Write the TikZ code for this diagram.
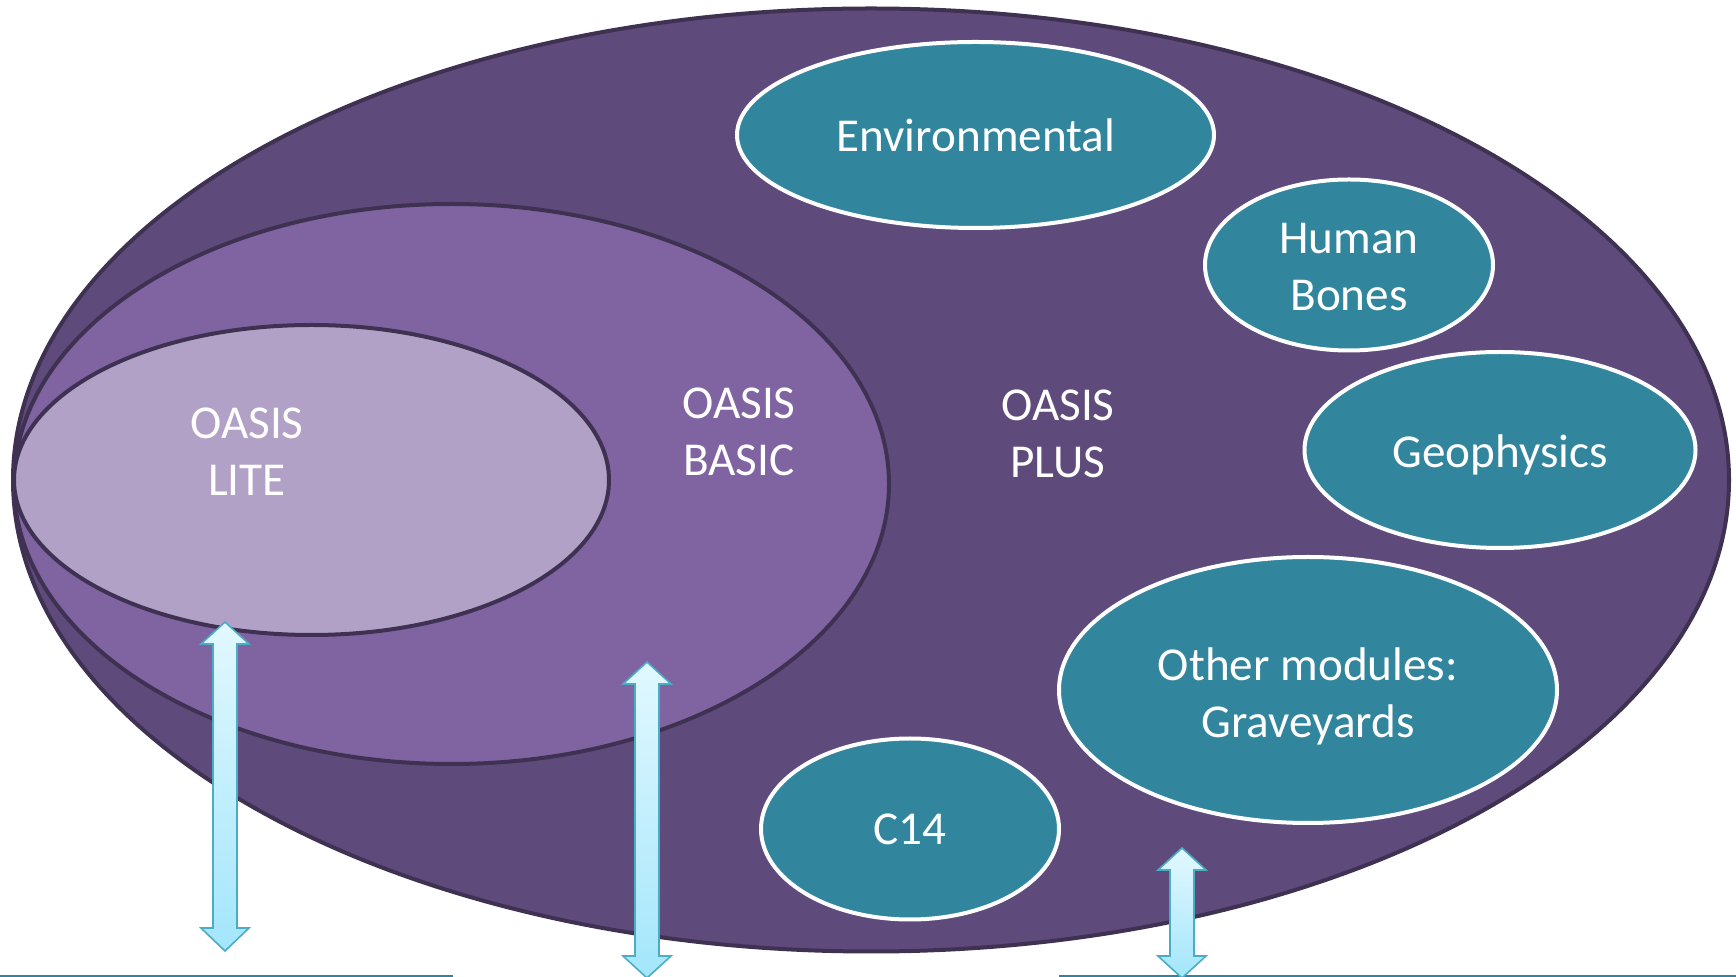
\documentclass[tikz,border=0pt]{standalone}
\usepackage{fontspec}
\setmainfont{Carlito}
\usepackage{tikz}
\usetikzlibrary{shapes.geometric}
\definecolor{rim}{HTML}{3F3151}
\definecolor{plusfill}{HTML}{5F4B7B}
\definecolor{basicfill}{HTML}{8064A2}
\definecolor{litefill}{HTML}{B2A1C7}
\definecolor{modfill}{HTML}{31859C}
\definecolor{arrowline}{HTML}{4BACC6}
\definecolor{arrowtop}{HTML}{E2F8FF}
\definecolor{arrowbot}{HTML}{A3E6FB}
\definecolor{baseline}{HTML}{31849B}
\tikzstyle{Level}=[shape=ellipse, draw=rim, line width=2pt, inner sep=0pt]
\tikzstyle{Module}=[shape=ellipse, fill=modfill, draw=white, line width=2pt, inner sep=0pt]
\tikzstyle{Label}=[text=white, align=center, inner sep=0pt, font=\fontsize{23.6}{28.5}\selectfont]
\tikzstyle{Arrow}=[draw=arrowline, line width=0.8pt, top color=arrowtop, bottom color=arrowbot]
\tikzstyle{Ground}=[draw=baseline, line width=1pt]
% x, top tip, top base, bottom base, bottom tip
\newcommand{\bidiarrow}[5]{%
	\draw [style=Arrow] (#1-12,#3) -- (#1-24,#3) -- (#1,#2) -- (#1+24,#3) -- (#1+12,#3)
		-- (#1+12,#4) -- (#1+24,#4) -- (#1,#5) -- (#1-24,#4) -- (#1-12,#4) -- cycle;}
\pgfdeclarelayer{nodelayer}
\pgfdeclarelayer{edgelayer}
\pgfsetlayers{nodelayer, edgelayer, main}

\begin{document}
\begin{tikzpicture}[x=0.5pt, y=-0.5pt]
	\useasboundingbox (0,0) rectangle (1736,977);
	\begin{pgfonlayer}{nodelayer}
		\node [style=Level, fill=plusfill, minimum width=858pt, minimum height=471.5pt] (plus) at (871, 480) {};
		\node [style=Level, fill=basicfill, minimum width=437.5pt, minimum height=280pt] (basic) at (451.5, 484) {};
		\node [style=Level, fill=litefill, minimum width=297.5pt, minimum height=155pt] (lite) at (311.5, 480) {};
		% modules
		\node [style=Module, minimum width=238.5pt, minimum height=93pt] (environmental) at (975.5, 135) {};
		\node [style=Module, minimum width=144pt, minimum height=85.5pt] (bones) at (1349, 265) {};
		\node [style=Module, minimum width=195.5pt, minimum height=98pt] (geophysics) at (1500, 450) {};
		\node [style=Module, minimum width=249pt, minimum height=133pt] (graveyards) at (1308, 690) {};
		\node [style=Module, minimum width=149pt, minimum height=90.5pt] (c14) at (910, 829) {};
		% labels
		\node [style=Label] (environmental_label) at (976, 135) {Environmental};
		\node [style=Label] (bones_label) at (1349, 267) {Human\\Bones};
		\node [style=Label] (geophysics_label) at (1500, 455) {Geophysics};
		\node [style=Label] (graveyards_label) at (1308, 696) {Other modules:\\Graveyards};
		\node [style=Label] (c14_label) at (910, 829) {C14};
		\node [style=Label] (lite_label) at (247, 452) {OASIS\\LITE};
		\node [style=Label] (basic_label) at (739, 432) {OASIS\\BASIC};
		\node [style=Label] (plus_label) at (1058, 434) {OASIS\\PLUS};
		\draw [style=Ground] (0, 976) -- (453, 976);
		\draw [style=Ground] (1059, 976) -- (1736, 976);
	\end{pgfonlayer}
	\begin{pgfonlayer}{edgelayer}
		\bidiarrow{225}{622}{644}{928}{951}
		\bidiarrow{647}{662}{684}{956}{978}
		\bidiarrow{1182}{848}{870}{956}{978}
	\end{pgfonlayer}
\end{tikzpicture}
\end{document}
